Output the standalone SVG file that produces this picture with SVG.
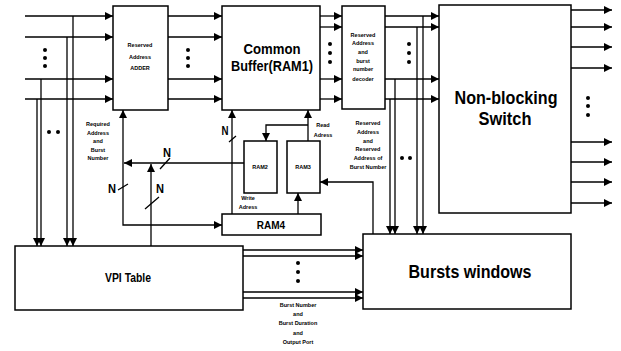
<svg xmlns="http://www.w3.org/2000/svg" width="621" height="351" viewBox="0 0 621 351">
<style>
.box{fill:#fff;stroke:#000;stroke-width:1.5}
.ln{fill:none;stroke:#000;stroke-width:1.3}
.ar{marker-end:url(#ah)}
.t{font-family:"Liberation Sans",Arial,sans-serif;font-weight:bold;fill:#000;text-anchor:middle}
.s{font-size:5.5px}
.d{fill:#000}
</style>
<defs>
<marker id="ah" viewBox="0 0 10 10" refX="10" refY="5" markerWidth="9" markerHeight="8" markerUnits="userSpaceOnUse" orient="auto">
<path d="M0,0 L10,5 L0,10 z" fill="#000"/>
</marker>
</defs>
<rect width="621" height="351" fill="#fff"/>
<g id="connectors">
<path class="ln ar" d="M25,16 H113"/>
<path class="ln ar" d="M25,37 H113"/>
<path class="ln ar" d="M25,79 H113"/>
<path class="ln ar" d="M25,99 H113"/>
<path class="ln ar" d="M73,16 V246"/>
<path class="ln ar" d="M67,37 V246"/>
<path class="ln ar" d="M41,79 V246"/>
<path class="ln ar" d="M37,99 V246"/>
<path class="ln ar" d="M168,16 H222"/>
<path class="ln ar" d="M168,37 H222"/>
<path class="ln ar" d="M168,79 H222"/>
<path class="ln ar" d="M168,99 H222"/>
<path class="ln ar" d="M320,16 H342"/>
<path class="ln ar" d="M320,27 H342"/>
<path class="ln ar" d="M320,79 H342"/>
<path class="ln ar" d="M320,99 H342"/>
<path class="ln ar" d="M385,16 H439"/>
<path class="ln ar" d="M385,27 H439"/>
<path class="ln ar" d="M385,79 H439"/>
<path class="ln ar" d="M385,99 H439"/>
<path class="ln ar" d="M423,16 V234"/>
<path class="ln ar" d="M417,27 V234"/>
<path class="ln ar" d="M395,79 V234"/>
<path class="ln ar" d="M390,99 V234"/>
<path class="ln ar" d="M571,10 H612"/>
<path class="ln ar" d="M571,27 H612"/>
<path class="ln ar" d="M571,47 H612"/>
<path class="ln ar" d="M571,68 H612"/>
<path class="ln ar" d="M571,142 H612"/>
<path class="ln ar" d="M571,162 H612"/>
<path class="ln ar" d="M571,182 H612"/>
<path class="ln ar" d="M571,203 H612"/>
<path class="ln ar" d="M244,163 H124"/>
<path class="ln ar" d="M123,163 V110"/>
<path class="ln ar" d="M123,163 V225 H222"/>
<path class="ln ar" d="M151,246 V164"/>
<path class="ln ar" d="M232,214 V110"/>
<path class="ln ar" d="M308,141 V110"/>
<path class="ln ar" d="M308,125 H266 V141"/>
<path class="ln ar" d="M298,214 V193"/>
<path class="ln ar" d="M373,234 V182 H320"/>
<path class="ln ar" d="M243,250 H363"/>
<path class="ln ar" d="M243,256 H363"/>
<path class="ln ar" d="M243,292 H363"/>
<path class="ln ar" d="M243,298 H363"/>
<path class="ln" d="M160,169 L170,158 M118,190 L128,184 M145,209 L159,197 M229,142 L236,136"/>
<g class="d">
<circle cx="45" cy="50" r="2"/><circle cx="45" cy="58" r="2"/><circle cx="45" cy="66" r="2"/>
<circle cx="49" cy="132" r="2"/><circle cx="58" cy="132" r="2"/>
<circle cx="188" cy="50" r="2"/><circle cx="188" cy="58" r="2"/><circle cx="188" cy="66" r="2"/>
<circle cx="330" cy="44" r="2"/><circle cx="330" cy="53" r="2"/><circle cx="330" cy="62" r="2"/>
<circle cx="409" cy="44" r="2"/><circle cx="409" cy="53" r="2"/><circle cx="409" cy="62" r="2"/>
<circle cx="402" cy="158" r="2"/><circle cx="410" cy="158" r="2"/>
<circle cx="588" cy="98" r="2"/><circle cx="588" cy="106" r="2"/><circle cx="588" cy="115" r="2"/>
<circle cx="298" cy="263" r="2"/><circle cx="298" cy="272" r="2"/><circle cx="298" cy="281" r="2"/>
</g>
<g class="t" font-size="13">
<text x="167" y="157" textLength="8" lengthAdjust="spacingAndGlyphs">N</text>
<text x="112" y="193" textLength="8" lengthAdjust="spacingAndGlyphs">N</text>
<text x="160" y="193" textLength="8" lengthAdjust="spacingAndGlyphs">N</text>
<text x="225" y="135" textLength="7" lengthAdjust="spacingAndGlyphs">N</text>
</g>
<g class="t s">
<text x="98" y="126">Required</text>
<text x="98" y="135">Address</text>
<text x="98" y="143">and</text>
<text x="98" y="152">Burst</text>
<text x="98" y="160">Number</text>
<text x="248" y="200">Write</text>
<text x="248" y="209">Adress</text>
<text x="323" y="127">Read</text>
<text x="323" y="137">Adress</text>
<text x="368" y="125">Reserved</text>
<text x="368" y="134">Address</text>
<text x="368" y="143">and</text>
<text x="368" y="151">Reserved</text>
<text x="368" y="160">Address of</text>
<text x="368" y="169">Burst Number</text>
<text x="298" y="307">Burst Number</text>
<text x="298" y="316">and</text>
<text x="298" y="325">Burst Duration</text>
<text x="298" y="335">and</text>
<text x="298" y="344">Output Port</text>
</g>
</g>
<g id="raa">
<rect class="box" x="113" y="6" width="55" height="104"/>
<text class="t s" x="140" y="47">Reserved</text>
<text class="t s" x="140" y="59">Address</text>
<text class="t s" x="140" y="70">ADDER</text>
</g>
<g id="ram1">
<rect class="box" x="222" y="6" width="98" height="104"/>
<text class="t" font-size="15" x="272" y="54" textLength="57" lengthAdjust="spacingAndGlyphs">Common</text>
<text class="t" font-size="15" x="272" y="71" textLength="82" lengthAdjust="spacingAndGlyphs">Buffer(RAM1)</text>
</g>
<g id="decoder">
<rect class="box" x="342" y="6" width="43" height="103"/>
<text class="t s" x="363" y="37">Reserved</text>
<text class="t s" x="363" y="45">Address</text>
<text class="t s" x="363" y="54">and</text>
<text class="t s" x="363" y="63">burst</text>
<text class="t s" x="363" y="71">number</text>
<text class="t s" x="363" y="81">decoder</text>
</g>
<g id="switch">
<rect class="box" x="439" y="5" width="132" height="208"/>
<text class="t" font-size="18" x="506" y="104" textLength="103" lengthAdjust="spacingAndGlyphs">Non-blocking</text>
<text class="t" font-size="18" x="505" y="125" textLength="53" lengthAdjust="spacingAndGlyphs">Switch</text>
</g>
<g id="ram2">
<rect class="box" x="244" y="141" width="33" height="52"/>
<text class="t s" x="260" y="169">RAM2</text>
</g>
<g id="ram3">
<rect class="box" x="287" y="141" width="33" height="52"/>
<text class="t s" x="303" y="169">RAM3</text>
</g>
<g id="ram4">
<rect class="box" x="222" y="214" width="99" height="21"/>
<text class="t" font-size="10" x="271" y="229">RAM4</text>
</g>
<g id="vpi">
<rect class="box" x="15" y="246" width="228" height="64"/>
<text class="t" font-size="12" x="128" y="282" textLength="46" lengthAdjust="spacingAndGlyphs">VPI Table</text>
</g>
<g id="bursts">
<rect class="box" x="363" y="234" width="208" height="75"/>
<text class="t" font-size="18" x="470" y="278" textLength="123" lengthAdjust="spacingAndGlyphs">Bursts windows</text>
</g>
</svg>
